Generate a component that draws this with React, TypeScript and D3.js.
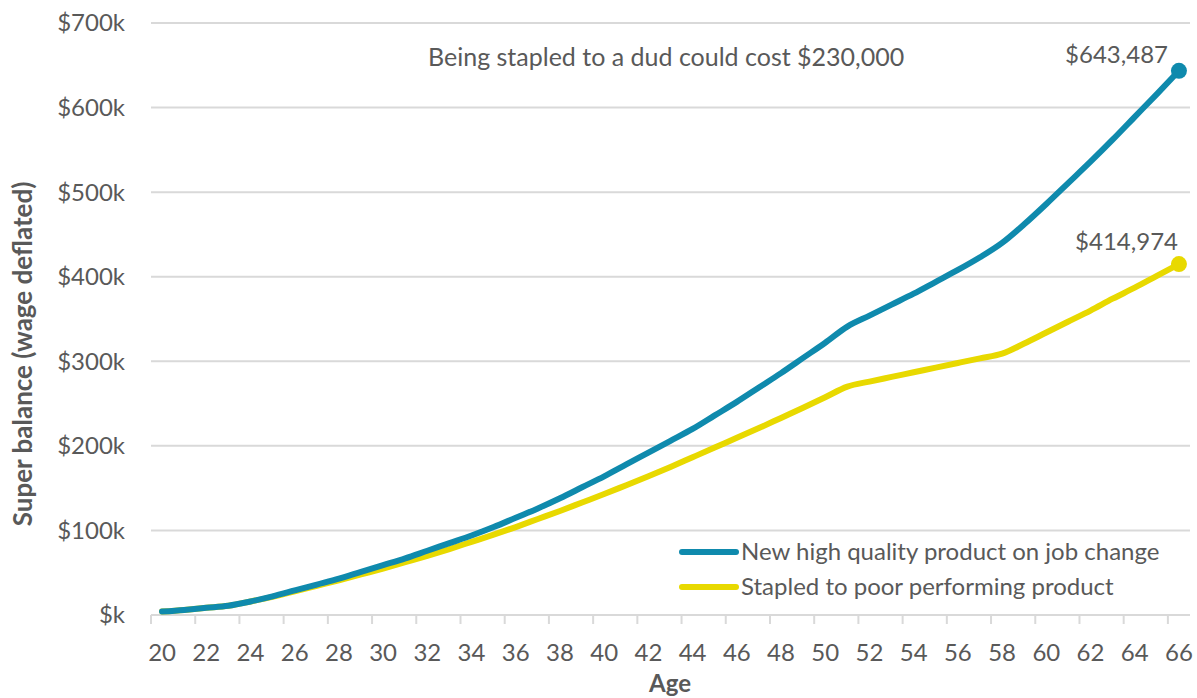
import React from "react";
import * as d3 from "d3";

const ages: number[] = d3.range(20, 67);

const highQuality: number[] = [
  4000, 6000, 8500, 11000, 16000, 22000, 29000, 36000, 43000, 51000,
  59000, 67000, 76000, 85000, 94000, 104000, 115000, 126000, 138000, 151000,
  164000, 178000, 192000, 206000, 220000, 236000, 252000, 269000, 286000, 304000,
  322000, 341000, 354000, 367000, 380000, 394000, 408000, 423000, 440000, 462000,
  486000, 511000, 536000, 562000, 589000, 616000, 643487,
];

const stapled: number[] = [
  4000, 6000, 8500, 11000, 16000, 21500, 28000, 34500, 41000, 48000,
  55000, 62500, 70000, 78000, 86500, 95000, 104000, 113500, 123000, 133000,
  143000, 153500, 164000, 175000, 186500, 198000, 209500, 221000, 233000, 245000,
  257500, 270000, 276000, 281500, 287000, 292500, 298000, 303500, 309000, 321000,
  334000, 347000, 360000, 374000, 387000, 401000, 414974,
];

const yTicks: number[] = [0, 100000, 200000, 300000, 400000, 500000, 600000, 700000];
const xLabelAges: number[] = ages.filter((a) => (a - 20) % 2 === 0);

const seriesNames = ["New high quality product on job change", "Stapled to poor performing product"];
const seriesColors = ["#0F8AAD", "#E8D900"];
const endLabels = ["$643,487", "$414,974"];
const annotation = "Being stapled to a dud could cost $230,000";
const yTitle = "Super balance (wage deflated)";
const xTitle = "Age";

const W = 1197;
const H = 698;
const FONT = "Lato, 'Open Sans', sans-serif";
const TEXT = "#595959";

export default function App() {
  const x = d3.scaleBand<number>().domain(ages).range([151, 1190]).paddingInner(0).paddingOuter(0);
  const bw = x.bandwidth();
  const cx = (a: number) => (x(a) as number) + bw / 2;
  const y = d3.scaleLinear().domain([0, 700000]).range([615, 23]);

  const line = d3
    .line<number>()
    .x((_, i) => cx(ages[i]))
    .y((v) => y(v))
    .curve(d3.curveMonotoneX);

  const series = [highQuality, stapled];
  const tickBoundaries = ages.filter((_, i) => i % 2 === 0).map((a) => x(a) as number);
  const fmt = (v: number) => `$${v === 0 ? "" : v / 1000}k`;

  return (
    <div style={{ position: "absolute", left: 0, top: 0 }}>
      <svg width={W} height={H} style={{ display: "block", fontFamily: FONT }}>
        <rect width={W} height={H} fill="#ffffff" />
        {yTicks.map((t) => (
          <g key={t}>
            <line x1={151} x2={1190} y1={y(t)} y2={y(t)} stroke="#d9d9d9" strokeWidth={2} />
            <text x={125} y={y(t)} dy="0.35em" textAnchor="end" fontSize={24} fill={TEXT}>
              {fmt(t)}
            </text>
          </g>
        ))}
        {tickBoundaries.map((bx, i) => (
          <line key={i} x1={bx} x2={bx} y1={615} y2={624} stroke="#d9d9d9" strokeWidth={2} />
        ))}
        {xLabelAges.map((a) => (
          <text key={a} x={cx(a)} y={661} textAnchor="middle" fontSize={24} fill={TEXT}>
            {a}
          </text>
        ))}
        <text x={670} y={692} textAnchor="middle" fontSize={24} fontWeight="bold" fill={TEXT}>
          {xTitle}
        </text>
        <text
          transform={`translate(32,354) rotate(-90)`}
          textAnchor="middle"
          fontSize={26}
          fontWeight="bold"
          fill={TEXT}
        >
          {yTitle}
        </text>
        {[1, 0].map((s) => (
          <g key={s}>
            <path
              d={line(series[s]) || ""}
              fill="none"
              stroke={seriesColors[s]}
              strokeWidth={6}
              strokeLinejoin="round"
              strokeLinecap="round"
            />
            <circle
              cx={cx(ages[ages.length - 1])}
              cy={y(series[s][series[s].length - 1])}
              r={8}
              fill={seriesColors[s]}
            />
          </g>
        ))}
        <text x={1168} y={63} textAnchor="end" fontSize={24} fill={TEXT}>
          {endLabels[0]}
        </text>
        <text x={1178} y={250} textAnchor="end" fontSize={24} fill={TEXT}>
          {endLabels[1]}
        </text>
        <text x={428} y={66} fontSize={25} fill={TEXT}>
          {annotation}
        </text>
        {seriesNames.map((n, i) => (
          <g key={n}>
            <line
              x1={682}
              x2={736}
              y1={552 + i * 35}
              y2={552 + i * 35}
              stroke={seriesColors[i]}
              strokeWidth={6}
              strokeLinecap="round"
            />
            <text x={741} y={560 + i * 35} fontSize={24} fill={TEXT}>
              {n}
            </text>
          </g>
        ))}
      </svg>
    </div>
  );
}
